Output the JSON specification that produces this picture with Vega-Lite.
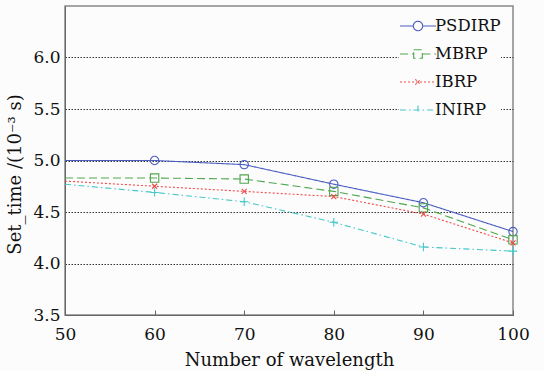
{
  "$schema": "https://vega.github.io/schema/vega-lite/v6.json",
  "width": 448,
  "height": 309,
  "autosize": "none",
  "padding": {"left": 65, "top": 6, "right": 31, "bottom": 56},
  "background": "#fcfcfc",
  "config": {
    "font": "DejaVu Serif",
    "view": {"stroke": "#888888", "strokeWidth": 1.5},
    "axis": {"labelFont": "DejaVu Serif", "titleFont": "DejaVu Serif", "labelColor": "#111", "titleColor": "#111", "titleFontWeight": "normal", "domainColor": "#666", "tickColor": "#666"}
  },
  "data": {
    "values": [
      {"n": 50, "v": 5.0, "s": "PSDIRP"},
      {"n": 60, "v": 5.0, "s": "PSDIRP"},
      {"n": 70, "v": 4.96, "s": "PSDIRP"},
      {"n": 80, "v": 4.77, "s": "PSDIRP"},
      {"n": 90, "v": 4.59, "s": "PSDIRP"},
      {"n": 100, "v": 4.31, "s": "PSDIRP"},
      {"n": 50, "v": 4.83, "s": "MBRP"},
      {"n": 60, "v": 4.83, "s": "MBRP"},
      {"n": 70, "v": 4.82, "s": "MBRP"},
      {"n": 80, "v": 4.70, "s": "MBRP"},
      {"n": 90, "v": 4.54, "s": "MBRP"},
      {"n": 100, "v": 4.23, "s": "MBRP"},
      {"n": 50, "v": 4.80, "s": "IBRP"},
      {"n": 60, "v": 4.75, "s": "IBRP"},
      {"n": 70, "v": 4.70, "s": "IBRP"},
      {"n": 80, "v": 4.65, "s": "IBRP"},
      {"n": 90, "v": 4.48, "s": "IBRP"},
      {"n": 100, "v": 4.20, "s": "IBRP"},
      {"n": 50, "v": 4.77, "s": "INIRP"},
      {"n": 60, "v": 4.69, "s": "INIRP"},
      {"n": 70, "v": 4.60, "s": "INIRP"},
      {"n": 80, "v": 4.40, "s": "INIRP"},
      {"n": 90, "v": 4.16, "s": "INIRP"},
      {"n": 100, "v": 4.12, "s": "INIRP"}
    ]
  },
  "encoding": {
    "x": {
      "field": "n", "type": "quantitative",
      "scale": {"domain": [50, 100], "nice": false},
      "axis": {"values": [50, 60, 70, 80, 90, 100], "title": "Number of wavelength", "grid": false, "tickSize": -5, "labelFontSize": 17, "titleFontSize": 18, "labelPadding": 16, "titlePadding": 9, "labelFlush": false}
    },
    "y": {
      "field": "v", "type": "quantitative",
      "scale": {"domain": [3.5, 6.5], "nice": false, "zero": false},
      "axis": {"values": [3.5, 4.0, 4.5, 5.0, 5.5, 6.0], "format": ".1f", "title": "Set_time /(10⁻³ s)", "grid": true, "gridColor": "#333", "gridDash": [1.5, 1.5], "gridWidth": 1, "tickSize": 0, "labelFontSize": 17, "titleFontSize": 18, "labelPadding": 5, "titlePadding": 8, "titleY": 168, "domain": true}
    }
  },
  "resolve": {"legend": {"shape": "independent"}},
  "layer": [
    {
      "mark": {"type": "line", "strokeWidth": 1.1},
      "encoding": {
        "color": {
          "field": "s", "type": "nominal",
          "scale": {"domain": ["PSDIRP", "MBRP", "IBRP", "INIRP"], "range": ["#4a5cc0", "#4ea64e", "#f04a4a", "#45c8c8"]},
          "legend": {
            "title": null, "orient": "none", "legendX": 334, "legendY": 1,
            "symbolType": "stroke", "symbolSize": 900, "symbolStrokeWidth": 1.1,
            "labelFontSize": 16.5, "labelFont": "DejaVu Serif", "labelColor": "#111",
            "rowPadding": -9, "fillColor": "#fcfcfc", "padding": 0, "labelOffset": -2,
            "encode": {"symbols": {"update": {"size": {"value": 1296}, "shape": {"signal": "datum.value == 'PSDIRP' ? 'M-1,0L-0.26,0M0.26,0L1,0M0.26,0A0.26,0.26 0 1,1 -0.26,0A0.26,0.26 0 1,1 0.26,0' : datum.value == 'MBRP' ? 'M-1,0L-0.24,0M0.24,0L1,0M-0.24,-0.24L0.24,-0.24L0.24,0.24L-0.24,0.24Z' : datum.value == 'IBRP' ? 'M-1,0L1,0M-0.15,-0.15L0.15,0.15M-0.15,0.15L0.15,-0.15' : 'M-1,0L1,0M0,-0.25L0,0.25'"}}}}
          }
        },
        "strokeDash": {
          "field": "s", "type": "nominal",
          "scale": {"domain": ["PSDIRP", "MBRP", "IBRP", "INIRP"], "range": [[1, 0], [8, 4], [2, 2], [6, 3, 1.5, 3]]},
          "legend": {
            "title": null, "orient": "none", "legendX": 334, "legendY": 1,
            "symbolType": "stroke", "symbolSize": 900, "symbolStrokeWidth": 1.1,
            "labelFontSize": 16.5, "labelFont": "DejaVu Serif", "labelColor": "#111",
            "rowPadding": -9, "fillColor": "#fcfcfc", "padding": 0, "labelOffset": -2
          }
        }
      }
    },
    {
      "transform": [{"filter": "datum.n > 50"}],
      "mark": {"type": "point", "filled": false, "strokeWidth": 1.1, "opacity": 1},
      "encoding": {
        "stroke": {
          "field": "s", "type": "nominal",
          "scale": {"domain": ["PSDIRP", "MBRP", "IBRP", "INIRP"], "range": ["#4a5cc0", "#4ea64e", "#f04a4a", "#45c8c8"]},
          "legend": null
        },
        "shape": {
          "field": "s", "type": "nominal",
          "scale": {"domain": ["PSDIRP", "MBRP", "IBRP", "INIRP"], "range": ["circle", "square", "M-0.6,-0.6L0.6,0.6M-0.6,0.6L0.6,-0.6", "M-1,0L1,0M0,-1L0,1"]},
          "legend": null
        },
        "size": {"value": 70}
      }
    }
  ]
}
